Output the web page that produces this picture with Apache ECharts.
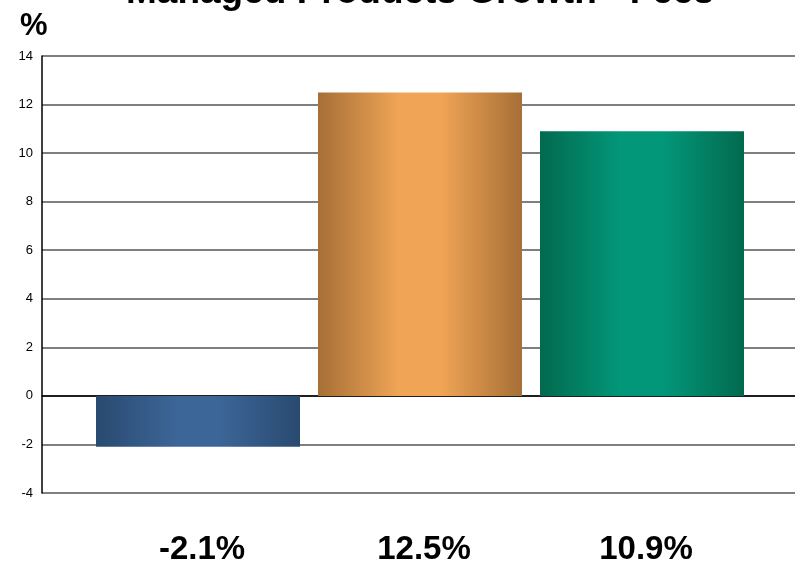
<!DOCTYPE html>
<html>
<head>
<meta charset="utf-8">
<script src="https://cdn.jsdelivr.net/npm/echarts@6/dist/echarts.min.js"></script>
<style>
  html, body { margin: 0; padding: 0; background: #fff; }
  #chart { width: 795px; height: 566px; }
</style>
</head>
<body>
<div id="chart"></div>
<script>
var categories = ["-2.1%", "12.5%", "10.9%"];
var values = [-2.1, 12.5, 10.9];
// edge / centre colour of each bar's shading
var barEdge = ["#294a70", "#a66f36", "#026a4e"];
var barMid = ["#3c6698", "#f0a556", "#03977a"];

var myChart = echarts.init(document.getElementById("chart"));

function shade(i) {
  return new echarts.graphic.LinearGradient(0, 0, 1, 0, [
    { offset: 0, color: barEdge[i] },
    { offset: 0.4, color: barMid[i] },
    { offset: 0.6, color: barMid[i] },
    { offset: 1, color: barEdge[i] },
  ]);
}

var option = {
  animation: false,
  title: [
    {
      text: "Managed Products Growth - Fees",
      left: 126,
      top: -26,
      padding: 0,
      textStyle: {
        fontFamily: "Liberation Sans, Arial",
        fontSize: 37,
        fontWeight: "bold",
        color: "#000",
      },
    },
    {
      text: "%",
      left: 20,
      top: 11,
      padding: 0,
      textStyle: {
        fontFamily: "Liberation Sans, Arial",
        fontSize: 31,
        fontWeight: "bold",
        color: "#000",
      },
    },
  ],
  grid: [
    // axis + gridlines, running to the right edge
    { left: 42, top: 56, right: 0, bottom: 73, outerBoundsMode: "none" },
    // bars
    { left: 87, top: 56, width: 666, bottom: 73, outerBoundsMode: "none" },
  ],
  xAxis: [
    {
      gridIndex: 0,
      type: "category",
      data: [""],
      axisLine: { lineStyle: { color: "#000", width: 1.5 } },
      axisTick: { show: false },
      axisLabel: { show: false },
    },
    {
      gridIndex: 1,
      type: "category",
      data: categories,
      axisLine: { show: false },
      axisTick: { show: false },
      axisLabel: {
        margin: 40,
        padding: [0, 0, 0, 8],
        fontFamily: "Liberation Sans, Arial",
        fontSize: 33,
        fontWeight: "bold",
        color: "#000",
      },
    },
  ],
  yAxis: [
    {
      gridIndex: 0,
      type: "value",
      min: -4,
      max: 14,
      interval: 2,
      axisLine: { show: true, lineStyle: { color: "#000", width: 1.5 } },
      axisTick: { show: false },
      axisLabel: {
        margin: 9,
        fontFamily: "Liberation Sans, Arial",
        fontSize: 13,
        color: "#000",
      },
      splitLine: { lineStyle: { color: "#555", width: 1.5 } },
    },
    {
      gridIndex: 1,
      type: "value",
      min: -4,
      max: 14,
      interval: 2,
      show: false,
    },
  ],
  series: [
    {
      type: "bar",
      xAxisIndex: 1,
      yAxisIndex: 1,
      barWidth: 204,
      data: values.map(function (v, i) {
        return { value: v, itemStyle: { color: shade(i) } };
      }),
    },
  ],
};
myChart.setOption(option, true);
</script>
</body>
</html>
